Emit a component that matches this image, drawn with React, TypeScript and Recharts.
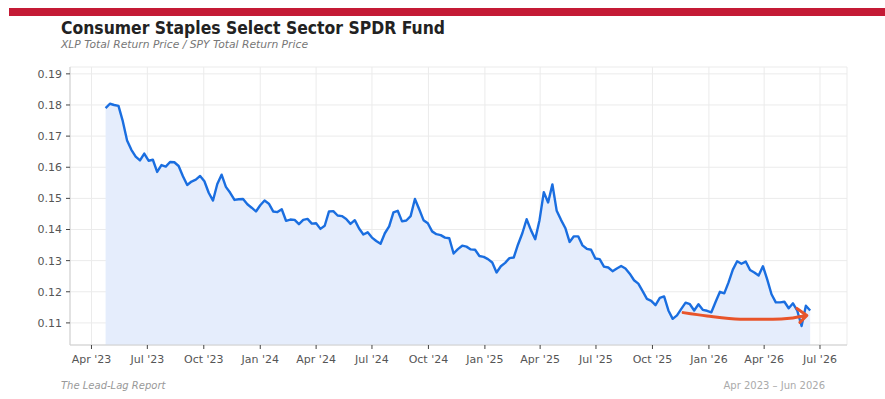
import React from 'react';
import { ComposedChart, Area, Line, XAxis, YAxis, CartesianGrid } from 'recharts';

// Weekly XLP/SPY total return ratio, first week 2023-04-24
const firstWeek = '2023-04-24';
const weeklyRatio = [
  0.1790, 0.1804, 0.1800, 0.1797, 0.1748, 0.1686, 0.1656, 0.1634, 0.1622, 0.1644,
  0.1621, 0.1624, 0.1585, 0.1607, 0.1602, 0.1617, 0.1616, 0.1604, 0.1571, 0.1543,
  0.1554, 0.1560, 0.1572, 0.1555, 0.1518, 0.1493, 0.1546, 0.1576, 0.1537, 0.1518,
  0.1495, 0.1497, 0.1498, 0.1481, 0.1470, 0.1458, 0.1478, 0.1493, 0.1483, 0.1458,
  0.1456, 0.1465, 0.1428, 0.1432, 0.1431, 0.1417, 0.1431, 0.1434, 0.1419, 0.1420,
  0.1402, 0.1412, 0.1458, 0.1459, 0.1445, 0.1443, 0.1434, 0.1418, 0.1430, 0.1403,
  0.1384, 0.1391, 0.1374, 0.1363, 0.1354, 0.1388, 0.1410, 0.1455, 0.1460, 0.1426,
  0.1429, 0.1443, 0.1498, 0.1465, 0.1430, 0.1420, 0.1394, 0.1385, 0.1382, 0.1374,
  0.1372, 0.1323, 0.1337, 0.1348, 0.1345, 0.1336, 0.1335, 0.1315, 0.1312, 0.1305,
  0.1294, 0.1262, 0.1282, 0.1293, 0.1308, 0.1310, 0.1352, 0.1388, 0.1433, 0.1398,
  0.1369, 0.1430, 0.1520, 0.1487, 0.1545, 0.1460, 0.1431, 0.1405, 0.1360, 0.1378,
  0.1378, 0.1349, 0.1338, 0.1335, 0.1307, 0.1305, 0.1281, 0.1278, 0.1266, 0.1275,
  0.1283, 0.1275, 0.1258, 0.1237, 0.1226, 0.1202, 0.1177, 0.1171, 0.1157, 0.1180,
  0.1185, 0.1140, 0.1113, 0.1124, 0.1145, 0.1165, 0.1160, 0.1140, 0.1160, 0.1142,
  0.1139, 0.1134, 0.1168, 0.1200, 0.1195, 0.1230, 0.1271, 0.1298, 0.1290, 0.1297,
  0.1270, 0.1262, 0.1252, 0.1282, 0.1240, 0.1192, 0.1166, 0.1166, 0.1168, 0.1147,
  0.1163, 0.1139, 0.1090, 0.1155, 0.1140,
];

// Annotation arrow (hand-drawn trend arrow)
const arrowDates = ['2025-11-20', '2025-12-29', '2026-02-21', '2026-04-15', '2026-05-13', '2026-06-08'];
const arrowValues = [0.1133, 0.1122, 0.1112, 0.1112, 0.1115, 0.1124];

const tickDates = [
  '2023-04-01', '2023-07-01', '2023-10-01', '2024-01-01', '2024-04-01', '2024-07-01', '2024-10-01',
  '2025-01-01', '2025-04-01', '2025-07-01', '2025-10-01', '2026-01-01', '2026-04-01', '2026-07-01',
];
const yTicks = [0.11, 0.12, 0.13, 0.14, 0.15, 0.16, 0.17, 0.18, 0.19];
const xDomainDates = ['2023-02-25', '2026-08-14'];
const yDomain = [0.1029, 0.1922];

const title = 'Consumer Staples Select Sector SPDR Fund';
const subtitle = 'XLP Total Return Price / SPY Total Return Price';
const sourceText = 'The Lead-Lag Report';
const rangeText = 'Apr 2023 \u2013 Jun 2026';

const MONTHS = ['Jan', 'Feb', 'Mar', 'Apr', 'May', 'Jun', 'Jul', 'Aug', 'Sep', 'Oct', 'Nov', 'Dec'];
const toTs = (s: string) => Date.parse(s + 'T00:00:00Z');
const DAY = 86400000;

const startTs = toTs(firstWeek);
const data = weeklyRatio.map((v, i) => ({ t: startTs + i * 7 * DAY, ratio: v }));
const arrowData = arrowDates.map((d, i) => ({ t: toTs(d), arrow: arrowValues[i] }));

const fmtTick = (ts: number) => {
  const d = new Date(ts);
  return `${MONTHS[d.getUTCMonth()]} '${String(d.getUTCFullYear()).slice(2)}`;
};

const FONT = '"DejaVu Sans", Verdana, sans-serif';
const ARROW_COLOR = '#e8542a';

const ArrowDot = (props: any) => {
  const { cx, cy, index } = props;
  if (index !== arrowData.length - 1 || cx == null) return <g key={`ad-${index}`} />;
  return (
    <path
      key={`ad-${index}`}
      d={`M ${cx - 9} ${cy - 7} L ${cx + 1} ${cy} L ${cx - 6} ${cy + 7}`}
      fill="none"
      stroke={ARROW_COLOR}
      strokeWidth={3}
      strokeLinecap="round"
      strokeLinejoin="round"
    />
  );
};

export default function App() {
  return (
    <div style={{ position: 'absolute', left: 0, top: 0, width: 885, height: 399, background: '#fff', fontFamily: FONT }}>
      <ComposedChart
        width={885}
        height={399}
        data={data}
        margin={{ top: 67, right: 38, bottom: 24, left: 0 }}
      >
        <CartesianGrid stroke="#ebebeb" strokeWidth={1} />
        <XAxis
          dataKey="t"
          type="number"
          scale="time"
          domain={xDomainDates.map(toTs)}
          ticks={tickDates.map(toTs)}
          tickFormatter={fmtTick}
          height={30}
          tickSize={4}
          tickMargin={6}
          axisLine={{ stroke: '#cfcfcf' }}
          tickLine={{ stroke: '#444' }}
          tick={{ fill: '#555', fontSize: 11, fontFamily: FONT }}
          allowDataOverflow
        />
        <YAxis
          type="number"
          domain={yDomain}
          ticks={yTicks}
          tickFormatter={(v: number) => v.toFixed(2)}
          width={70}
          tickSize={4}
          tickMargin={4}
          axisLine={{ stroke: '#cfcfcf' }}
          tickLine={{ stroke: '#444' }}
          tick={{ fill: '#555', fontSize: 11, fontFamily: FONT }}
          allowDataOverflow
        />
        <Area
          type="linear"
          dataKey="ratio"
          stroke="#1a6ee0"
          strokeWidth={2.4}
          strokeLinejoin="round"
          fill="#e5edfc"
          fillOpacity={1}
          isAnimationActive={false}
          dot={false}
          activeDot={false}
        />
        <Line
          data={arrowData}
          dataKey="arrow"
          type="monotone"
          stroke={ARROW_COLOR}
          strokeWidth={3}
          strokeLinecap="round"
          dot={ArrowDot}
          activeDot={false}
          isAnimationActive={false}
        />
      </ComposedChart>
      <svg width={885} height={399} style={{ position: 'absolute', left: 0, top: 0, pointerEvents: 'none' }}>
        <rect x={9} y={8} width={876} height={8} fill="#c41a35" />
        <text x={61} y={34} fontFamily={FONT} fontSize={17} fontWeight="bold" fill="#222" textLength={384} lengthAdjust="spacingAndGlyphs">{title}</text>
        <text x={61} y={48} fontFamily={FONT} fontSize={11} fontStyle="italic" fill="#777" textLength={247} lengthAdjust="spacingAndGlyphs">{subtitle}</text>
        <text x={61} y={389} fontFamily={FONT} fontSize={10} fontStyle="italic" fill="#999">{sourceText}</text>
        <text x={825} y={389} fontFamily={FONT} fontSize={10} fill="#aaa" textAnchor="end">{rangeText}</text>
      </svg>
    </div>
  );
}
